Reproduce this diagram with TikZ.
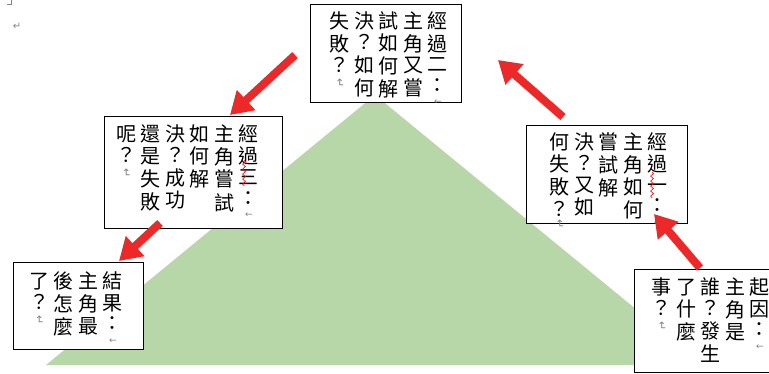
\documentclass[tikz,border=0pt]{standalone}
\usepackage{fontspec}
\usepackage{graphicx}
\usepackage{tikz}
\usetikzlibrary{arrows.meta,decorations.pathmorphing}
\newfontfamily\cjk{Noto Sans CJK TC}
\newfontfamily\markfont{DejaVu Sans}
\definecolor{hill}{RGB}{183,215,168}
\definecolor{arrowred}{RGB}{236,40,40}
\definecolor{markgray}{RGB}{130,130,130}
\newcommand\vcol[1]{\begin{tabular}[t]{@{}c@{}}#1\end{tabular}}
\newcommand\colsep{\hspace{4.5pt}}
\newcommand\lmark{{\markfont\fontsize{9}{9}\selectfont\color{markgray}←}}
\newcommand\pmark{\raisebox{18pt}{\markfont\fontsize{11}{11}\selectfont\color{markgray}\rotatebox{-90}{↵}}}
\tikzset{
  box/.style={draw=black,fill=white,line width=0.8pt,inner sep=0pt},
  coltext/.style={inner sep=0pt,anchor=north east,font=\cjk\fontsize{20}{20.5}\selectfont},
  bigarrow/.style={arrowred,line width=8pt,-{Triangle[length=22pt,width=26pt]}},
  squiggle/.style={red,line width=0.6pt,decorate,decoration={snake,amplitude=1.4pt,segment length=5pt}}
}
\begin{document}
\begin{tikzpicture}[x=1pt,y=-1pt]
\useasboundingbox (0,0) rectangle (769,374);
% page marks
\draw[markgray,line width=0.6pt] (11,0) -- (11,4) -- (7,4);
\node (para) at (17,26) [inner sep=0pt,font=\markfont\fontsize{10}{10}\selectfont,text=markgray] {↵};
% the hill
\fill[hill] (375,95) -- (46,365) -- (704,365) -- cycle;
% boxes
\node (b1) at (385.5,53) [box,minimum width=151pt,minimum height=98pt] {};
\node (b2) at (193,172) [box,minimum width=178pt,minimum height=112pt] {};
\node (b3) at (606.5,174) [box,minimum width=161pt,minimum height=98pt] {};
\node (b4) at (78,305.5) [box,minimum width=130pt,minimum height=87pt] {};
\node (b5) at (704.5,320.5) [box,minimum width=141pt,minimum height=103pt] {};
% texts
\node (b1t) at (448,11) [coltext] {\vcol{失\\敗\\？\\\pmark}\colsep\vcol{決\\？\\如\\何}\colsep\vcol{試\\如\\何\\解}\colsep\vcol{主\\角\\又\\嘗}\colsep\vcol{經\\過\\二\\：\\[-8pt]\lmark}};
\node (b2t) at (259,124) [coltext] {\vcol{呢\\？\\\pmark}\colsep\vcol{還\\是\\失\\敗}\colsep\vcol{決\\？\\成\\功}\colsep\vcol{如\\何\\解}\colsep\vcol{主\\角\\嘗\\試}\colsep\vcol{經\\過\\三\\：\\[-8pt]\lmark}};
\node (b3t) at (668,132) [coltext] {\vcol{何\\失\\敗\\？\\[-3pt]\pmark}\colsep\vcol{決\\？\\又\\如}\colsep\vcol{嘗\\試\\解}\colsep\vcol{主\\角\\如\\何}\colsep\vcol{經\\過\\一\\：\\[-8pt]\lmark}};
\node (b4t) at (123,271) [coltext] {\vcol{了\\？\\\pmark}\colsep\vcol{後\\怎\\麼}\colsep\vcol{主\\角\\最}\colsep\vcol{結\\果\\：\\[-8pt]\lmark}};
\node (b5t) at (770,277) [coltext] {\vcol{事\\？\\\pmark}\colsep\vcol{了\\什\\麼}\colsep\vcol{誰\\？\\發\\生}\colsep\vcol{主\\角\\是}\colsep\vcol{起\\因\\：\\[-8pt]\lmark}};
% spelling marks
\draw[squiggle] (244,160) -- (244,186);
\draw[squiggle] (652,172) -- (652,198);
% arrows
\coordinate (s1) at (295,55);
\coordinate (e1) at (230,115);
\coordinate (s2) at (160,223);
\coordinate (e2) at (119,261);
\coordinate (s3) at (563,117);
\coordinate (e3) at (498,60);
\coordinate (s4) at (700,268);
\coordinate (e4) at (654,214);
\draw[bigarrow] (s1) -- (e1);
\draw[bigarrow] (s2) -- (e2);
\draw[bigarrow] (s3) -- (e3);
\draw[bigarrow] (s4) -- (e4);
\end{tikzpicture}
\end{document}
